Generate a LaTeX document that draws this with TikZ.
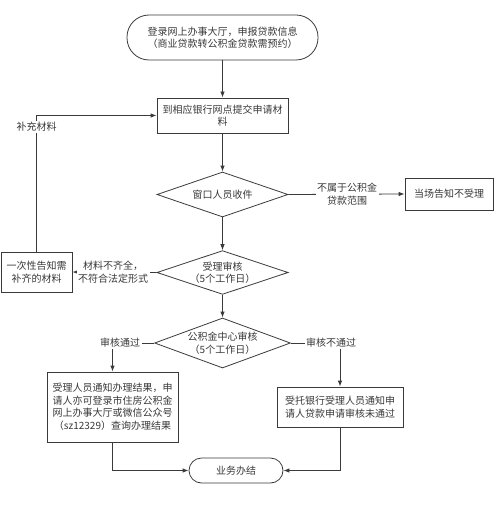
\documentclass[tikz,border=0pt]{standalone}
\usepackage{fontspec}
\newfontfamily\cjk{Noto Sans CJK SC}
\usetikzlibrary{shapes.geometric,arrows.meta}
\definecolor{ln}{HTML}{3A3A3A}
\definecolor{tx}{HTML}{383838}
\tikzset{
  base/.style={font=\cjk\fontsize{10}{12.5}\selectfont, text=tx, align=center, inner sep=1pt},
  box/.style={base, draw=ln, line width=0.8pt, rectangle},
  term/.style={box, rounded corners=#1},
  dia/.style={base, draw=ln, line width=0.8pt, diamond, aspect=3, inner sep=0pt},
  lbl/.style={base, fill=white, inner sep=1.5pt},
  arr/.style={draw=ln, line width=0.8pt, -{Latex[length=6pt,width=4.5pt]}},
  ln/.style={draw=ln, line width=0.8pt}
}
\begin{document}
\begin{tikzpicture}[x=1pt,y=-1pt]
\useasboundingbox (0,0) rectangle (500,505);
\node[term=22pt, minimum width=191pt, minimum height=45pt] (start) at (222.5,37.5) {登录网上办事大厅，申报贷款信息\\（商业贷款转公积金贷款需预约）};
\node[box, minimum width=131pt, minimum height=35pt] (submit) at (222.5,115.5) {到相应银行网点提交申请材\\料};
\node[dia, minimum width=131pt, minimum height=45pt] (recv) at (222.5,194.5) {窗口人员收件};
\node[box, minimum width=88pt, minimum height=32pt] (reject) at (449,194) {当场告知不受理};
\node[dia, minimum width=131pt, minimum height=41pt] (check) at (222.5,272.5) {受理审核\\（5个工作日）};
\node[box, minimum width=71pt, minimum height=40pt] (notify) at (36.5,272) {一次性告知需\\补齐的材料};
\node[dia, minimum width=131pt, minimum height=50pt] (center) at (222.5,343) {公积金中心审核\\（5个工作日）};
\node[box, minimum width=131pt, minimum height=70pt] (pass) at (112.5,407) {受理人员通知办理结果，申\\请人亦可登录市住房公积金\\网上办事大厅或微信公众号\\（sz12329）查询办理结果};
\node[box, minimum width=126pt, minimum height=40pt] (fail) at (340,407) {受托银行受理人员通知申\\请人贷款申请审核未通过};
\node[term=12.5pt, minimum width=94pt, minimum height=25pt] (done) at (236,470.5) {业务办结};

\draw[arr] (start) -- (submit);
\draw[arr] (submit) -- (recv);
\draw[arr] (recv) -- (check);
\draw[arr] (check) -- (center);
\draw[arr] (recv.east) -- (reject.west);
\node[lbl] (l1) at (347,194) {不属于公积金\\贷款范围};
\draw[arr] (check.west) -- (notify.east);
\node[lbl] (l2) at (113,272) {材料不齐全，\\不符合法定形式};
\draw[arr] (notify.north) |- (submit.west);
\node[lbl] (l3) at (36.5,127) {补充材料};
\draw[arr] (center.west) -| (pass.north);
\node[lbl] (l4) at (120,343) {审核通过};
\draw[arr] (center.east) -| (fail.north);
\node[lbl] (l5) at (331,343) {审核不通过};
\draw[arr] (pass.south) |- (done.west);
\draw[arr] (fail.south) |- (done.east);
\end{tikzpicture}
\end{document}
